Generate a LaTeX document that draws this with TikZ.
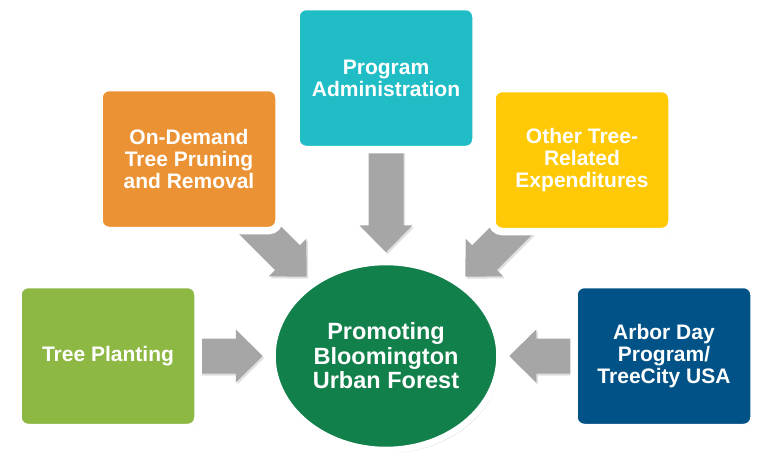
\documentclass[tikz,border=0pt]{standalone}
\usepackage{fontspec}
\setmainfont{Liberation Sans}
\usetikzlibrary{calc,shapes.geometric,shadows,backgrounds}
\definecolor{cGreen}{HTML}{8DB843}
\definecolor{cOrange}{HTML}{EB9234}
\definecolor{cTeal}{HTML}{20BDC6}
\definecolor{cYellow}{HTML}{FFCA05}
\definecolor{cBlue}{HTML}{005287}
\definecolor{cForest}{HTML}{11804B}
\definecolor{cArrow}{HTML}{A6A6A6}
\tikzset{
  box/.style={rectangle, rounded corners=10pt, draw=white, line width=7.5pt,
    minimum width=180pt, minimum height=143pt, inner sep=0pt, align=center,
    text=white, font=\fontsize{21}{22}\selectfont\bfseries,
    drop shadow={shadow xshift=2pt, shadow yshift=-3pt, opacity=.18, fill=black}},
  hub/.style={ellipse, draw=white, line width=6.5pt, fill=cForest,
    minimum width=227pt, minimum height=188pt, inner sep=0pt, align=center,
    text=white, font=\fontsize{23.5}{24.5}\selectfont\bfseries,
    drop shadow={shadow xshift=2pt, shadow yshift=-3pt, opacity=.18, fill=black}},
  fat/.style={fill=cArrow, drop shadow={shadow xshift=1.5pt, shadow yshift=-2pt, opacity=.12, fill=black}}
}
% fat arrow from node #1 towards the hub, tip near the hub border at angle #2
\newcommand\fatarrow[2]{%
  \path[fat] let \p1=(#1.center), \p2=(fc.#2),
    \n1={atan2(\y2-\y1,\x2-\x1)}, \n2={veclen(\x2-\x1,\y2-\y1)-6.5pt}, \n3={\n2-27pt} in
    [shift={(\p1)}, rotate=\n1]
    (0pt,-17.5pt) -- (\n3,-17.5pt) -- (\n3,-26.5pt) -- (\n2,0pt)
    -- (\n3,26.5pt) -- (\n3,17.5pt) -- (0pt,17.5pt) -- cycle;}
\begin{document}
\begin{tikzpicture}[x=1pt,y=-1pt]
\useasboundingbox (0,0) rectangle (762,453);
\node[hub] (fc) at (386,356) {Promoting\\Bloomington\\Urban Forest};
\node[box, fill=cGreen] (tp) at (108,356) {Tree Planting};
\node[box, fill=cOrange] (od) at (189,159) {On-Demand\\Tree Pruning\\and Removal};
\node[box, fill=cTeal] (pa) at (386,78) {Program\\Administration};
\node[box, fill=cYellow] (ot) at (582,160) {Other Tree-\\Related\\Expenditures};
\node[box, fill=cBlue] (ar) at (664,356) {Arbor Day\\Program/\\TreeCity USA};
\begin{scope}[on background layer]
\fatarrow{tp}{180}
\fatarrow{od}{135}
\fatarrow{pa}{90}
\fatarrow{ot}{45}
\fatarrow{ar}{0}
\end{scope}
\end{tikzpicture}
\end{document}
